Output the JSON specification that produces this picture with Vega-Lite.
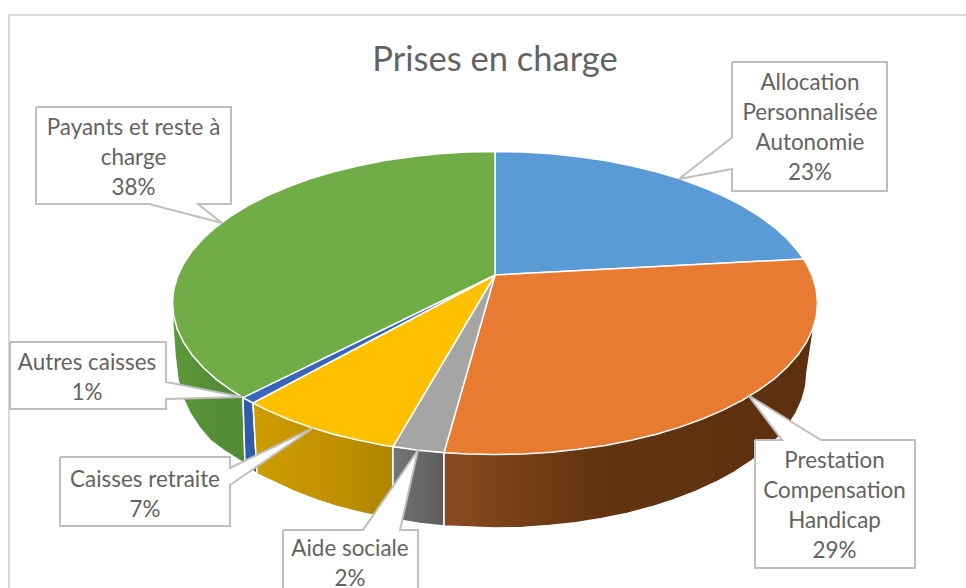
{
"$schema":"https://vega.github.io/schema/vega-lite/v6.json",
"width":966,"height":588,"padding":0,"autosize":"none",
"background":"white",
"title":{"text":"Prises en charge","font":"Lato","fontSize":34.5,"fontWeight":"normal","color":"#636363","anchor":"middle","dx":12,"offset":-105,"baseline":"alphabetic"},
"config":{"view":{"stroke":null}},
"datasets":{
"top":[
{"slice":"Allocation Personnalisée Autonomie","seq":0,"x":495,"y":275},{"slice":"Allocation Personnalisée Autonomie","seq":1,"x":495,"y":151.5},{"slice":"Allocation Personnalisée Autonomie","seq":2,"x":523.1,"y":152.1},{"slice":"Allocation Personnalisée Autonomie","seq":3,"x":551,"y":153.8},{"slice":"Allocation Personnalisée Autonomie","seq":4,"x":578.5,"y":156.7},{"slice":"Allocation Personnalisée Autonomie","seq":5,"x":605.3,"y":160.6},{"slice":"Allocation Personnalisée Autonomie","seq":6,"x":631.3,"y":165.7},{"slice":"Allocation Personnalisée Autonomie","seq":7,"x":656.3,"y":171.8},{"slice":"Allocation Personnalisée Autonomie","seq":8,"x":680,"y":178.9},{"slice":"Allocation Personnalisée Autonomie","seq":9,"x":702.3,"y":187},{"slice":"Allocation Personnalisée Autonomie","seq":10,"x":723,"y":195.9},{"slice":"Allocation Personnalisée Autonomie","seq":11,"x":742,"y":205.6},{"slice":"Allocation Personnalisée Autonomie","seq":12,"x":759.2,"y":216.1},{"slice":"Allocation Personnalisée Autonomie","seq":13,"x":774.3,"y":227.3},{"slice":"Allocation Personnalisée Autonomie","seq":14,"x":787.3,"y":239},{"slice":"Allocation Personnalisée Autonomie","seq":15,"x":798,"y":251.2},{"slice":"Allocation Personnalisée Autonomie","seq":16,"x":803.6,"y":259},{"slice":"Allocation Personnalisée Autonomie","seq":17,"x":495,"y":275},
{"slice":"Prestation Compensation Handicap","seq":0,"x":495,"y":275},{"slice":"Prestation Compensation Handicap","seq":1,"x":803.6,"y":259},{"slice":"Prestation Compensation Handicap","seq":2,"x":806.5,"y":263.8},{"slice":"Prestation Compensation Handicap","seq":3,"x":812.6,"y":276.7},{"slice":"Prestation Compensation Handicap","seq":4,"x":816.3,"y":289.8},{"slice":"Prestation Compensation Handicap","seq":5,"x":817.5,"y":303},{"slice":"Prestation Compensation Handicap","seq":6,"x":816.3,"y":316.2},{"slice":"Prestation Compensation Handicap","seq":7,"x":812.6,"y":329.3},{"slice":"Prestation Compensation Handicap","seq":8,"x":806.5,"y":342.2},{"slice":"Prestation Compensation Handicap","seq":9,"x":798,"y":354.8},{"slice":"Prestation Compensation Handicap","seq":10,"x":787.3,"y":367},{"slice":"Prestation Compensation Handicap","seq":11,"x":774.3,"y":378.8},{"slice":"Prestation Compensation Handicap","seq":12,"x":759.2,"y":389.9},{"slice":"Prestation Compensation Handicap","seq":13,"x":742,"y":400.4},{"slice":"Prestation Compensation Handicap","seq":14,"x":723,"y":410.1},{"slice":"Prestation Compensation Handicap","seq":15,"x":702.3,"y":419},{"slice":"Prestation Compensation Handicap","seq":16,"x":680,"y":427.1},{"slice":"Prestation Compensation Handicap","seq":17,"x":656.3,"y":434.2},{"slice":"Prestation Compensation Handicap","seq":18,"x":631.3,"y":440.3},{"slice":"Prestation Compensation Handicap","seq":19,"x":605.3,"y":445.4},{"slice":"Prestation Compensation Handicap","seq":20,"x":578.5,"y":449.3},{"slice":"Prestation Compensation Handicap","seq":21,"x":551,"y":452.2},{"slice":"Prestation Compensation Handicap","seq":22,"x":523.1,"y":453.9},{"slice":"Prestation Compensation Handicap","seq":23,"x":495,"y":454.5},{"slice":"Prestation Compensation Handicap","seq":24,"x":466.9,"y":453.9},{"slice":"Prestation Compensation Handicap","seq":25,"x":444,"y":452.6},{"slice":"Prestation Compensation Handicap","seq":26,"x":495,"y":275},
{"slice":"Aide sociale","seq":0,"x":495,"y":275},{"slice":"Aide sociale","seq":1,"x":444,"y":452.6},{"slice":"Aide sociale","seq":2,"x":418,"y":450.3},{"slice":"Aide sociale","seq":3,"x":393,"y":446.6},{"slice":"Aide sociale","seq":4,"x":495,"y":275},
{"slice":"Caisses retraite","seq":0,"x":495,"y":275},{"slice":"Caisses retraite","seq":1,"x":393,"y":446.6},{"slice":"Caisses retraite","seq":2,"x":384.7,"y":445.4},{"slice":"Caisses retraite","seq":3,"x":358.7,"y":440.3},{"slice":"Caisses retraite","seq":4,"x":333.8,"y":434.2},{"slice":"Caisses retraite","seq":5,"x":310,"y":427.1},{"slice":"Caisses retraite","seq":6,"x":287.7,"y":419},{"slice":"Caisses retraite","seq":7,"x":267,"y":410.1},{"slice":"Caisses retraite","seq":8,"x":253,"y":403},{"slice":"Caisses retraite","seq":9,"x":495,"y":275},
{"slice":"Autres caisses","seq":0,"x":495,"y":275},{"slice":"Autres caisses","seq":1,"x":253,"y":403},{"slice":"Autres caisses","seq":2,"x":243,"y":397.6},{"slice":"Autres caisses","seq":3,"x":495,"y":275},
{"slice":"Payants et reste à charge","seq":0,"x":495,"y":275},{"slice":"Payants et reste à charge","seq":1,"x":243,"y":397.6},{"slice":"Payants et reste à charge","seq":2,"x":230.8,"y":389.9},{"slice":"Payants et reste à charge","seq":3,"x":215.7,"y":378.8},{"slice":"Payants et reste à charge","seq":4,"x":202.7,"y":367},{"slice":"Payants et reste à charge","seq":5,"x":192,"y":354.8},{"slice":"Payants et reste à charge","seq":6,"x":183.5,"y":342.2},{"slice":"Payants et reste à charge","seq":7,"x":177.4,"y":329.3},{"slice":"Payants et reste à charge","seq":8,"x":173.7,"y":316.2},{"slice":"Payants et reste à charge","seq":9,"x":172.5,"y":303},{"slice":"Payants et reste à charge","seq":10,"x":173.7,"y":289.8},{"slice":"Payants et reste à charge","seq":11,"x":177.4,"y":276.7},{"slice":"Payants et reste à charge","seq":12,"x":183.5,"y":263.8},{"slice":"Payants et reste à charge","seq":13,"x":192,"y":251.2},{"slice":"Payants et reste à charge","seq":14,"x":202.7,"y":239},{"slice":"Payants et reste à charge","seq":15,"x":215.7,"y":227.3},{"slice":"Payants et reste à charge","seq":16,"x":230.8,"y":216.1},{"slice":"Payants et reste à charge","seq":17,"x":248,"y":205.6},{"slice":"Payants et reste à charge","seq":18,"x":267,"y":195.9},{"slice":"Payants et reste à charge","seq":19,"x":287.7,"y":187},{"slice":"Payants et reste à charge","seq":20,"x":310,"y":178.9},{"slice":"Payants et reste à charge","seq":21,"x":333.8,"y":171.8},{"slice":"Payants et reste à charge","seq":22,"x":358.7,"y":165.7},{"slice":"Payants et reste à charge","seq":23,"x":384.7,"y":160.6},{"slice":"Payants et reste à charge","seq":24,"x":411.5,"y":156.7},{"slice":"Payants et reste à charge","seq":25,"x":439,"y":153.8},{"slice":"Payants et reste à charge","seq":26,"x":466.9,"y":152.1},{"slice":"Payants et reste à charge","seq":27,"x":495,"y":151.5},{"slice":"Payants et reste à charge","seq":28,"x":495,"y":275}
],
"side":[
{"slice":"Prestation Compensation Handicap","seq":0,"x":817.5,"y":303},{"slice":"Prestation Compensation Handicap","seq":1,"x":812.6,"y":329.3},{"slice":"Prestation Compensation Handicap","seq":2,"x":798,"y":354.8},{"slice":"Prestation Compensation Handicap","seq":3,"x":742,"y":400.4},{"slice":"Prestation Compensation Handicap","seq":4,"x":656.3,"y":434.2},{"slice":"Prestation Compensation Handicap","seq":5,"x":551,"y":452.2},{"slice":"Prestation Compensation Handicap","seq":6,"x":444,"y":452.6},{"slice":"Prestation Compensation Handicap","seq":7,"x":444,"y":526},{"slice":"Prestation Compensation Handicap","seq":8,"x":495,"y":528},{"slice":"Prestation Compensation Handicap","seq":9,"x":522.2,"y":527.4},{"slice":"Prestation Compensation Handicap","seq":10,"x":549.2,"y":525.6},{"slice":"Prestation Compensation Handicap","seq":11,"x":575.8,"y":522.7},{"slice":"Prestation Compensation Handicap","seq":12,"x":601.7,"y":518.6},{"slice":"Prestation Compensation Handicap","seq":13,"x":626.9,"y":513.4},{"slice":"Prestation Compensation Handicap","seq":14,"x":651,"y":507.1},{"slice":"Prestation Compensation Handicap","seq":15,"x":674,"y":499.8},{"slice":"Prestation Compensation Handicap","seq":16,"x":695.6,"y":491.5},{"slice":"Prestation Compensation Handicap","seq":17,"x":715.6,"y":482.3},{"slice":"Prestation Compensation Handicap","seq":18,"x":734,"y":472.3},{"slice":"Prestation Compensation Handicap","seq":19,"x":750.6,"y":461.5},{"slice":"Prestation Compensation Handicap","seq":20,"x":765.2,"y":450},{"slice":"Prestation Compensation Handicap","seq":21,"x":777.8,"y":437.9},{"slice":"Prestation Compensation Handicap","seq":22,"x":788.2,"y":425.4},{"slice":"Prestation Compensation Handicap","seq":23,"x":796.4,"y":412.4},{"slice":"Prestation Compensation Handicap","seq":24,"x":802.3,"y":399.1},{"slice":"Prestation Compensation Handicap","seq":25,"x":805.8,"y":385.6},{"slice":"Prestation Compensation Handicap","seq":26,"x":807,"y":372},{"slice":"Prestation Compensation Handicap","seq":27,"x":817.5,"y":303},
{"slice":"Aide sociale","seq":0,"x":393,"y":446.6},{"slice":"Aide sociale","seq":1,"x":444,"y":452.6},{"slice":"Aide sociale","seq":2,"x":444,"y":526},{"slice":"Aide sociale","seq":3,"x":420,"y":523.5},{"slice":"Aide sociale","seq":4,"x":393,"y":519},{"slice":"Aide sociale","seq":5,"x":393,"y":446.6},
{"slice":"Caisses retraite","seq":0,"x":253,"y":403},{"slice":"Caisses retraite","seq":1,"x":287.7,"y":419},{"slice":"Caisses retraite","seq":2,"x":333.8,"y":434.2},{"slice":"Caisses retraite","seq":3,"x":393,"y":446.6},{"slice":"Caisses retraite","seq":4,"x":393,"y":519},{"slice":"Caisses retraite","seq":5,"x":365,"y":513.5},{"slice":"Caisses retraite","seq":6,"x":339,"y":507.1},{"slice":"Caisses retraite","seq":7,"x":316,"y":499.8},{"slice":"Caisses retraite","seq":8,"x":294.4,"y":491.5},{"slice":"Caisses retraite","seq":9,"x":257,"y":474},{"slice":"Caisses retraite","seq":10,"x":253,"y":403},
{"slice":"Autres caisses","seq":0,"x":243,"y":397.6},{"slice":"Autres caisses","seq":1,"x":253,"y":403},{"slice":"Autres caisses","seq":2,"x":257,"y":474},{"slice":"Autres caisses","seq":3,"x":245,"y":464},{"slice":"Autres caisses","seq":4,"x":243,"y":397.6},
{"slice":"Payants et reste à charge","seq":0,"x":243,"y":397.6},{"slice":"Payants et reste à charge","seq":1,"x":215.7,"y":378.8},{"slice":"Payants et reste à charge","seq":2,"x":192,"y":354.8},{"slice":"Payants et reste à charge","seq":3,"x":177.4,"y":329.3},{"slice":"Payants et reste à charge","seq":4,"x":172.5,"y":303},{"slice":"Payants et reste à charge","seq":5,"x":173,"y":327},{"slice":"Payants et reste à charge","seq":6,"x":175,"y":355},{"slice":"Payants et reste à charge","seq":7,"x":178,"y":380},{"slice":"Payants et reste à charge","seq":8,"x":183,"y":398},{"slice":"Payants et reste à charge","seq":9,"x":190,"y":413},{"slice":"Payants et reste à charge","seq":10,"x":199,"y":427},{"slice":"Payants et reste à charge","seq":11,"x":210,"y":440},{"slice":"Payants et reste à charge","seq":12,"x":226,"y":452},{"slice":"Payants et reste à charge","seq":13,"x":245,"y":464},{"slice":"Payants et reste à charge","seq":14,"x":243,"y":397.6}
],
"callouts":[
{"slice":"Payants et reste à charge","seq":0,"x":36,"y":107},{"slice":"Payants et reste à charge","seq":1,"x":231,"y":107},{"slice":"Payants et reste à charge","seq":2,"x":231,"y":204},{"slice":"Payants et reste à charge","seq":3,"x":198,"y":204},{"slice":"Payants et reste à charge","seq":4,"x":222,"y":223},{"slice":"Payants et reste à charge","seq":5,"x":149,"y":204},{"slice":"Payants et reste à charge","seq":6,"x":36,"y":204},{"slice":"Payants et reste à charge","seq":7,"x":36,"y":107},
{"slice":"Allocation Personnalisée Autonomie","seq":0,"x":732,"y":62},{"slice":"Allocation Personnalisée Autonomie","seq":1,"x":887,"y":62},{"slice":"Allocation Personnalisée Autonomie","seq":2,"x":887,"y":191},{"slice":"Allocation Personnalisée Autonomie","seq":3,"x":732,"y":191},{"slice":"Allocation Personnalisée Autonomie","seq":4,"x":732,"y":169},{"slice":"Allocation Personnalisée Autonomie","seq":5,"x":679,"y":179},{"slice":"Allocation Personnalisée Autonomie","seq":6,"x":732,"y":137.5},{"slice":"Allocation Personnalisée Autonomie","seq":7,"x":732,"y":62},
{"slice":"Prestation Compensation Handicap","seq":0,"x":755,"y":440},{"slice":"Prestation Compensation Handicap","seq":1,"x":782,"y":440},{"slice":"Prestation Compensation Handicap","seq":2,"x":748,"y":395},{"slice":"Prestation Compensation Handicap","seq":3,"x":821,"y":440},{"slice":"Prestation Compensation Handicap","seq":4,"x":915,"y":440},{"slice":"Prestation Compensation Handicap","seq":5,"x":915,"y":568},{"slice":"Prestation Compensation Handicap","seq":6,"x":755,"y":568},{"slice":"Prestation Compensation Handicap","seq":7,"x":755,"y":440},
{"slice":"Autres caisses","seq":0,"x":10,"y":342},{"slice":"Autres caisses","seq":1,"x":166,"y":342},{"slice":"Autres caisses","seq":2,"x":166,"y":382},{"slice":"Autres caisses","seq":3,"x":242,"y":397},{"slice":"Autres caisses","seq":4,"x":166,"y":399},{"slice":"Autres caisses","seq":5,"x":166,"y":409},{"slice":"Autres caisses","seq":6,"x":10,"y":409},{"slice":"Autres caisses","seq":7,"x":10,"y":342},
{"slice":"Caisses retraite","seq":0,"x":60,"y":457},{"slice":"Caisses retraite","seq":1,"x":230,"y":457},{"slice":"Caisses retraite","seq":2,"x":230,"y":468},{"slice":"Caisses retraite","seq":3,"x":313,"y":428},{"slice":"Caisses retraite","seq":4,"x":230,"y":485},{"slice":"Caisses retraite","seq":5,"x":230,"y":526},{"slice":"Caisses retraite","seq":6,"x":60,"y":526},{"slice":"Caisses retraite","seq":7,"x":60,"y":457},
{"slice":"Aide sociale","seq":0,"x":283,"y":530},{"slice":"Aide sociale","seq":1,"x":363,"y":530},{"slice":"Aide sociale","seq":2,"x":418,"y":450},{"slice":"Aide sociale","seq":3,"x":400,"y":530},{"slice":"Aide sociale","seq":4,"x":418,"y":530},{"slice":"Aide sociale","seq":5,"x":418,"y":596},{"slice":"Aide sociale","seq":6,"x":283,"y":596},{"slice":"Aide sociale","seq":7,"x":283,"y":530}
],
"frame":[{"seq":0,"x":9,"y":590},{"seq":1,"x":9,"y":15},{"seq":2,"x":968,"y":15}],
"labels":[
{"label":"Payants et reste à\ncharge\n38%","x":133.5,"y":135},
{"label":"Allocation\nPersonnalisée\nAutonomie\n23%","x":810,"y":90},
{"label":"Prestation\nCompensation\nHandicap\n29%","x":834.5,"y":468},
{"label":"Autres caisses\n1%","x":87,"y":370},
{"label":"Caisses retraite\n7%","x":145,"y":487},
{"label":"Aide sociale\n2%","x":350,"y":556}
]
},
"encoding":{
"x":{"field":"x","type":"quantitative","scale":{"domain":[0,966],"nice":false,"zero":false},"axis":null},
"y":{"field":"y","type":"quantitative","scale":{"domain":[588,0],"nice":false,"zero":false},"axis":null}
},
"layer":[
{"data":{"name":"frame"},"mark":{"type":"line","stroke":"#d9d9d9","strokeWidth":2,"clip":true},"encoding":{"order":{"field":"seq","type":"quantitative"}}},
{"data":{"name":"side"},"transform":[{"filter":"datum.slice==='Payants et reste à charge'"}],"mark":{"type":"line","stroke":"white","strokeWidth":1.5,"fill":{"x1":0,"x2":1,"y1":0,"y2":0,"gradient":"linear","stops":[{"offset":0,"color":"#5d9a3b"},{"offset":0.6,"color":"#548d35"},{"offset":1,"color":"#528c34"}]}},"encoding":{"order":{"field":"seq","type":"quantitative"}}},
{"data":{"name":"side"},"transform":[{"filter":"datum.slice==='Autres caisses'"}],"mark":{"type":"line","stroke":"white","strokeWidth":1.5,"fill":"#2f5cab"},"encoding":{"order":{"field":"seq","type":"quantitative"}}},
{"data":{"name":"side"},"transform":[{"filter":"datum.slice==='Caisses retraite'"}],"mark":{"type":"line","stroke":"white","strokeWidth":1.5,"fill":{"x1":0,"x2":1,"y1":0,"y2":0,"gradient":"linear","stops":[{"offset":0,"color":"#cf9c00"},{"offset":0.6,"color":"#bf9000"},{"offset":1,"color":"#ae8400"}]}},"encoding":{"order":{"field":"seq","type":"quantitative"}}},
{"data":{"name":"side"},"transform":[{"filter":"datum.slice==='Aide sociale'"}],"mark":{"type":"line","stroke":"white","strokeWidth":1.5,"fill":{"x1":0,"x2":1,"y1":0,"y2":0,"gradient":"linear","stops":[{"offset":0,"color":"#757575"},{"offset":1,"color":"#5c5c5c"}]}},"encoding":{"order":{"field":"seq","type":"quantitative"}}},
{"data":{"name":"side"},"transform":[{"filter":"datum.slice==='Prestation Compensation Handicap'"}],"mark":{"type":"line","stroke":"white","strokeWidth":1.5,"fill":{"x1":0,"x2":1,"y1":0,"y2":0,"gradient":"linear","stops":[{"offset":0,"color":"#8a4a20"},{"offset":0.4,"color":"#63340f"},{"offset":1,"color":"#5c2f0f"}]}},"encoding":{"order":{"field":"seq","type":"quantitative"}}},
{"data":{"name":"top"},"mark":{"type":"line","stroke":"white","strokeWidth":1.5},"encoding":{"order":{"field":"seq","type":"quantitative"},"detail":{"field":"slice"},"fill":{"field":"slice","type":"nominal","legend":null,"scale":{"domain":["Allocation Personnalisée Autonomie","Prestation Compensation Handicap","Aide sociale","Caisses retraite","Autres caisses","Payants et reste à charge"],"range":["#5b9bd5","#e97a31","#a5a5a5","#ffc000","#3a66b8","#70ad47"]}}}},
{"data":{"name":"callouts"},"mark":{"type":"line","stroke":"#bfbfbf","strokeWidth":2,"fill":"white","clip":true},"encoding":{"order":{"field":"seq","type":"quantitative"},"detail":{"field":"slice"}}},
{"data":{"name":"labels"},"mark":{"type":"text","font":"Lato","fontSize":22.4,"color":"#636363","align":"center","baseline":"alphabetic","lineBreak":"\n","lineHeight":30},"encoding":{"text":{"field":"label"}}}
]
}
